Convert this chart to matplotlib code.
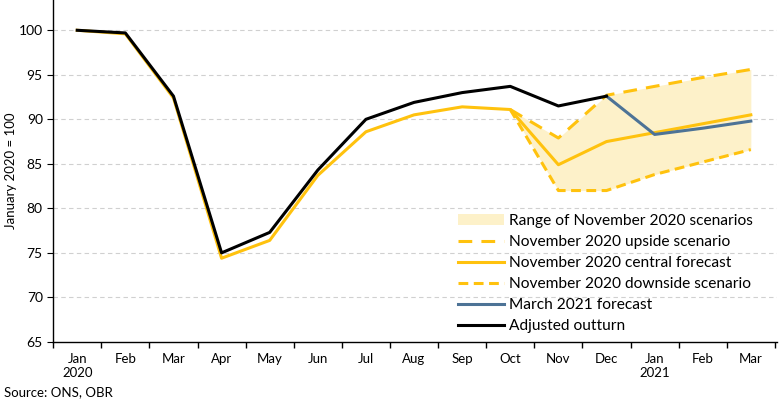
import matplotlib
matplotlib.use("Agg")
import matplotlib.pyplot as plt
import numpy as np

plt.rcParams['font.family'] = ['Lato', 'DejaVu Sans']

months = ["Jan\n2020", "Feb", "Mar", "Apr", "May", "Jun", "Jul", "Aug", "Sep",
          "Oct", "Nov", "Dec", "Jan\n2021", "Feb", "Mar"]

outturn = [100.0, 99.7, 92.6, 75.0, 77.3, 84.3, 90.0, 91.9, 93.0, 93.7, 91.5, 92.6]
central = [100.0, 99.6, 92.4, 74.4, 76.4, 83.7, 88.6, 90.5, 91.4, 91.1, 84.9, 87.5, 88.5, 89.5, 90.5]
upside_idx = [9, 10, 11, 12, 13, 14]
upside = [91.1, 87.9, 92.7, 93.7, 94.7, 95.6]
downside = [91.1, 82.0, 82.0, 83.8, 85.2, 86.6]
march_idx = [11, 12, 13, 14]
march21 = [92.6, 88.3, 89.0, 89.8]

YELLOW = "#FFC20E"
FILL = "#FDF1C9"
BLUE = "#4D7396"

fig = plt.figure(figsize=(7.82, 4.08), dpi=100)
ax = fig.add_axes([0.068, 0.162, 0.926, 0.838])

x_all = np.arange(len(months))
up = np.array(upside)
dn = np.array(downside)
ce = np.array(central)[upside_idx]
lo = np.minimum(np.minimum(up, dn), ce)
hi = np.maximum(np.maximum(up, dn), ce)
ax.fill_between(upside_idx, lo, hi, color=FILL, lw=0, zorder=1,
                label="Range of November 2020 scenarios")
ax.plot(upside_idx, upside, color=YELLOW, lw=2.2, dashes=(4.5, 3), zorder=2,
        label="November 2020 upside scenario")
ax.plot(x_all, central, color=YELLOW, lw=2.2, zorder=3,
        label="November 2020 central forecast")
ax.plot(upside_idx, downside, color=YELLOW, lw=2.2, dashes=(3.2, 1.8), zorder=2,
        label="November 2020 downside scenario")
ax.plot(march_idx, march21, color=BLUE, lw=2.2, zorder=4,
        label="March 2021 forecast")
ax.plot(np.arange(len(outturn)), outturn, color="black", lw=2.2, zorder=5,
        label="Adjusted outturn")

ax.set_xlim(-0.5, 14.55)
ax.set_ylim(65, 103.4)
ax.set_yticks(np.arange(65, 101, 5))
ax.set_xticks(x_all)
ax.set_xticklabels(months)
ax.set_xticks(np.arange(-0.5, 14.6, 1), minor=True)
ax.tick_params(axis='x', which='major', length=0, pad=8, labelsize=9.5)
ax.tick_params(axis='x', which='minor', length=4, direction='out', width=1)
ax.tick_params(axis='y', length=4, direction='out', labelsize=10)
for s in ['top', 'right']:
    ax.spines[s].set_visible(False)
ax.spines['left'].set_linewidth(1)
ax.spines['bottom'].set_linewidth(1)
ax.set_axisbelow(True)
for yv in range(70, 101, 5):
    ax.axhline(yv, color="#d0d0d0", lw=0.8, ls=(0, (4, 3)), zorder=0)
ax.set_ylabel("January 2020 = 100", fontsize=9.5, labelpad=1)

leg = ax.legend(loc="lower right", bbox_to_anchor=(0.978, 0.0), frameon=False,
                fontsize=11.2, handlelength=3.0, handletextpad=0.3,
                labelspacing=0.45, borderaxespad=0.15)

fig.text(0.005, 0.025, "Source: ONS, OBR", fontsize=9.5, ha="left", va="bottom")

fig.savefig("out.png", dpi=100)
